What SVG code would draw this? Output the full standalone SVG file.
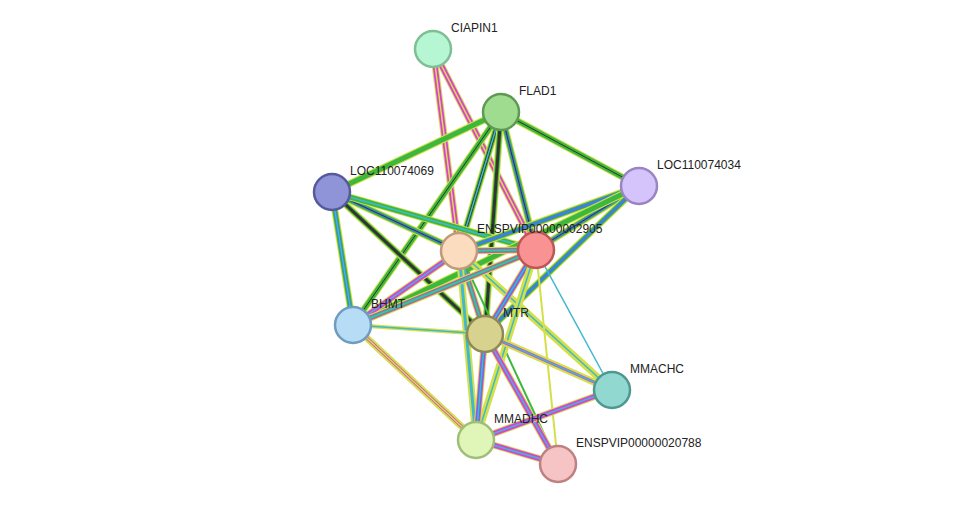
<svg xmlns="http://www.w3.org/2000/svg" width="975" height="510" viewBox="0 0 975 510">
<style>
.e line{fill:none}
.y{stroke:#d4e04a;stroke-width:7}
.m{stroke:#d940d9;stroke-width:5}
.g{stroke:#3cb83c;stroke-width:5}
.k{stroke:#333;stroke-width:3}
.b{stroke:#3f7fe0;stroke-width:3}
.c{stroke:#3fb8d0;stroke-width:1.5}
.n circle{stroke-width:2.5}
text{font-family:"Liberation Sans",Arial,sans-serif;font-size:12px;fill:#222}
</style>
<rect width="975" height="510" fill="#fff"/>
<g id="connectors">
<!-- yellow+magenta -->
<g>
<line class="y" x1="433" y1="49" x2="459" y2="251"/><line class="m" x1="433" y1="49" x2="459" y2="251"/><line class="c" x1="433" y1="49" x2="459" y2="251" style="stroke:#d4e04a"/>
<line class="y" x1="433" y1="49" x2="536" y2="250"/><line class="m" x1="433" y1="49" x2="536" y2="250"/><line class="c" x1="433" y1="49" x2="536" y2="250" style="stroke:#d4e04a"/>
</g>
<!-- green/black/yellow edges -->
<g>
<line class="y" x1="501" y1="112" x2="332" y2="192"/><line class="g" x1="501" y1="112" x2="332" y2="192"/>
<line class="y" x1="501" y1="112" x2="639" y2="186"/><line class="g" x1="501" y1="112" x2="639" y2="186"/><line class="k" x1="501" y1="112" x2="639" y2="186" style="stroke-width:1"/>
<line class="y" x1="501" y1="112" x2="459" y2="251"/><line class="g" x1="501" y1="112" x2="459" y2="251"/><line class="k" x1="501" y1="112" x2="459" y2="251"/><line class="c" x1="501" y1="112" x2="459" y2="251"/>
<line class="y" x1="501" y1="112" x2="536" y2="250"/><line class="g" x1="501" y1="112" x2="536" y2="250"/><line class="b" x1="501" y1="112" x2="536" y2="250"/><line class="k" x1="501" y1="112" x2="536" y2="250" style="stroke-width:1"/>
<line class="y" x1="501" y1="112" x2="485" y2="334"/><line class="g" x1="501" y1="112" x2="485" y2="334"/><line class="k" x1="501" y1="112" x2="485" y2="334"/>
<line class="y" x1="501" y1="112" x2="353" y2="325"/><line class="g" x1="501" y1="112" x2="353" y2="325"/><line class="k" x1="501" y1="112" x2="353" y2="325" style="stroke-width:1"/>
<line class="y" x1="332" y1="192" x2="459" y2="251"/><line class="g" x1="332" y1="192" x2="459" y2="251"/><line class="b" x1="332" y1="192" x2="459" y2="251"/><line class="k" x1="332" y1="192" x2="459" y2="251" style="stroke-width:1"/>
<line class="y" x1="332" y1="192" x2="536" y2="250"/><line class="g" x1="332" y1="192" x2="536" y2="250"/><line class="c" x1="332" y1="192" x2="536" y2="250"/>
<line class="y" x1="332" y1="192" x2="485" y2="334"/><line class="g" x1="332" y1="192" x2="485" y2="334"/><line class="k" x1="332" y1="192" x2="485" y2="334"/>
<line class="y" x1="332" y1="192" x2="353" y2="325"/><line class="g" x1="332" y1="192" x2="353" y2="325"/><line class="b" x1="332" y1="192" x2="353" y2="325"/><line class="c" x1="332" y1="192" x2="353" y2="325"/>
<line class="y" x1="639" y1="186" x2="459" y2="251"/><line class="g" x1="639" y1="186" x2="459" y2="251"/><line class="b" x1="639" y1="186" x2="459" y2="251"/>
<line class="y" x1="639" y1="186" x2="536" y2="250"/><line class="g" x1="639" y1="186" x2="536" y2="250"/><line class="b" x1="639" y1="186" x2="536" y2="250"/><line class="k" x1="639" y1="186" x2="536" y2="250" style="stroke-width:1"/>
<line class="y" x1="639" y1="186" x2="485" y2="334"/><line class="g" x1="639" y1="186" x2="485" y2="334"/><line class="b" x1="639" y1="186" x2="485" y2="334"/>
<line class="y" x1="639" y1="186" x2="353" y2="325"/><line class="g" x1="639" y1="186" x2="353" y2="325"/>
</g>
<!-- core edges -->
<g>
<line class="y" x1="459" y1="251" x2="536" y2="250"/><line class="m" x1="459" y1="251" x2="536" y2="250"/><line class="g" x1="459" y1="251" x2="536" y2="250" style="stroke-width:3"/><line class="c" x1="459" y1="251" x2="536" y2="250"/>
<line class="y" x1="459" y1="251" x2="485" y2="334"/><line class="m" x1="459" y1="251" x2="485" y2="334"/><line class="g" x1="459" y1="251" x2="485" y2="334" style="stroke-width:3"/><line class="c" x1="459" y1="251" x2="485" y2="334"/>
<line class="y" x1="459" y1="251" x2="353" y2="325"/><line class="m" x1="459" y1="251" x2="353" y2="325"/><line class="c" x1="459" y1="251" x2="353" y2="325"/>
<line class="y" x1="459" y1="251" x2="476" y2="440"/><line class="c" x1="459" y1="251" x2="476" y2="440" style="stroke-width:3"/>
<line class="y" x1="459" y1="251" x2="612" y2="390"/><line class="c" x1="459" y1="251" x2="612" y2="390"/>
<line class="k" x1="459" y1="251" x2="558" y2="464" style="stroke:#3cb83c;stroke-width:2"/>
<line class="y" x1="536" y1="250" x2="485" y2="334"/><line class="m" x1="536" y1="250" x2="485" y2="334"/><line class="b" x1="536" y1="250" x2="485" y2="334"/><line class="c" x1="536" y1="250" x2="485" y2="334"/>
<line class="y" x1="536" y1="250" x2="353" y2="325"/><line class="m" x1="536" y1="250" x2="353" y2="325"/><line class="g" x1="536" y1="250" x2="353" y2="325" style="stroke-width:3"/><line class="c" x1="536" y1="250" x2="353" y2="325"/>
<line class="y" x1="536" y1="250" x2="476" y2="440"/><line class="c" x1="536" y1="250" x2="476" y2="440"/>
<line class="y" x1="536" y1="250" x2="558" y2="464" style="stroke-width:2"/>
<line class="c" x1="536" y1="250" x2="612" y2="390"/>
<line class="y" x1="353" y1="325" x2="485" y2="334" style="stroke-width:4"/><line class="c" x1="353" y1="325" x2="485" y2="334"/>
<line class="y" x1="353" y1="325" x2="476" y2="440"/><line class="m" x1="353" y1="325" x2="476" y2="440" style="stroke-width:3"/><line class="c" x1="353" y1="325" x2="476" y2="440" style="stroke:#d4e04a"/>
<line class="y" x1="485" y1="334" x2="612" y2="390"/><line class="m" x1="485" y1="334" x2="612" y2="390" style="stroke-width:3"/><line class="c" x1="485" y1="334" x2="612" y2="390"/>
<line class="y" x1="485" y1="334" x2="476" y2="440"/><line class="m" x1="485" y1="334" x2="476" y2="440"/><line class="b" x1="485" y1="334" x2="476" y2="440"/><line class="c" x1="485" y1="334" x2="476" y2="440"/>
<line class="y" x1="485" y1="334" x2="558" y2="464"/><line class="m" x1="485" y1="334" x2="558" y2="464"/><line class="c" x1="485" y1="334" x2="558" y2="464"/>
<line class="y" x1="476" y1="440" x2="612" y2="390"/><line class="m" x1="476" y1="440" x2="612" y2="390"/><line class="c" x1="476" y1="440" x2="612" y2="390"/>
<line class="y" x1="476" y1="440" x2="558" y2="464"/><line class="m" x1="476" y1="440" x2="558" y2="464"/><line class="c" x1="476" y1="440" x2="558" y2="464"/>
</g>
</g>
<g id="CIAPIN1" class="n"><circle cx="433" cy="49" r="18" fill="#b6f6d2" stroke="#7fbf98"/><text x="451" y="32">CIAPIN1</text></g>
<g id="FLAD1" class="n"><circle cx="501" cy="112" r="18" fill="#a0dc8f" stroke="#5f9a55"/><text x="519" y="95">FLAD1</text></g>
<g id="LOC110074034" class="n"><circle cx="639" cy="186" r="18" fill="#d5c4fb" stroke="#9a84c4"/><text x="657" y="169">LOC110074034</text></g>
<g id="LOC110074069" class="n"><circle cx="332" cy="192" r="18" fill="#8f94d8" stroke="#565a9a"/><text x="350" y="175">LOC110074069</text></g>
<g id="ENSPVIP00000002905b" class="n"><circle cx="536" cy="250" r="18" fill="#f99393" stroke="#c05555"/></g>
<g id="ENSPVIP00000002905" class="n"><circle cx="459" cy="251" r="18" fill="#fcdcbf" stroke="#c09a7a"/><text x="477" y="233">ENSPVIP00000002905</text></g>
<g id="BHMT" class="n"><circle cx="353" cy="325" r="18" fill="#b6dcf6" stroke="#6f9cbf"/><text x="371" y="308">BHMT</text></g>
<g id="MTR" class="n"><circle cx="485" cy="334" r="18" fill="#d8d28f" stroke="#8f8a55"/><text x="503" y="317">MTR</text></g>
<g id="MMACHC" class="n"><circle cx="612" cy="390" r="18" fill="#90d8d0" stroke="#4f9890"/><text x="630" y="373">MMACHC</text></g>
<g id="MMADHC" class="n"><circle cx="476" cy="440" r="18" fill="#e0f6b8" stroke="#9fbf78"/><text x="494" y="423">MMADHC</text></g>
<g id="ENSPVIP00000020788" class="n"><circle cx="558" cy="464" r="18" fill="#f6c4c4" stroke="#bf8080"/><text x="576" y="447">ENSPVIP00000020788</text></g>
</svg>
